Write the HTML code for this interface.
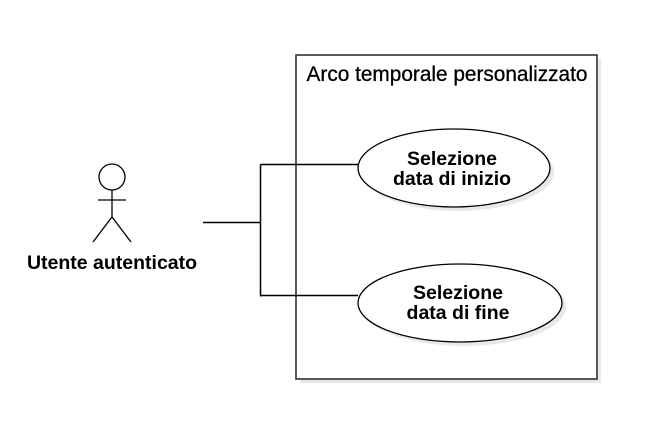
<!DOCTYPE html>
<html><head><style>html,body{margin:0;padding:0;background:#fff;}</style></head>
<body>
<svg width="655" height="435" xmlns="http://www.w3.org/2000/svg" font-family="Liberation Sans, Arial, sans-serif">
<rect x="300" y="59" width="301" height="324" fill="#e8e8e8"/>
<rect x="296" y="55" width="301" height="324" fill="#fff" stroke="#333" stroke-width="1.6"/>
<text x="447" y="81" font-size="20.8" text-anchor="middle" fill="#000" stroke="#000" stroke-width="0.3">Arco temporale personalizzato</text>
<ellipse cx="458" cy="172" rx="96" ry="39" fill="#e8e8e8"/>
<ellipse cx="454" cy="168" rx="96" ry="39" fill="#fff" stroke="#000" stroke-width="1.3"/>
<ellipse cx="464" cy="307" rx="102" ry="39" fill="#e8e8e8"/>
<ellipse cx="460" cy="303" rx="102" ry="39" fill="#fff" stroke="#000" stroke-width="1.3"/>
<text font-size="19.5" font-weight="bold" text-anchor="middle" fill="#000"><tspan x="452" y="165">Selezione</tspan><tspan x="452" y="185">data di inizio</tspan></text>
<text font-size="19.5" font-weight="bold" text-anchor="middle" fill="#000"><tspan x="458" y="299">Selezione</tspan><tspan x="458" y="319">data di fine</tspan></text>
<g stroke="#000" stroke-width="1.5" fill="none">
<path d="M203 222.5 H260.5 M260.5 164.5 V296.5 M260.5 164.5 H358 M260.5 295.5 H358"/>
</g>
<g stroke="#000" stroke-width="1.3" fill="#fff">
<circle cx="112" cy="177" r="13"/>
<path d="M112 190 V217 M98 200 H126 M93 242 L112 217 L131 242" fill="none"/>
</g>
<text x="112" y="269" font-size="19.5" font-weight="bold" text-anchor="middle" fill="#000">Utente autenticato</text>
</svg>
</body></html>
